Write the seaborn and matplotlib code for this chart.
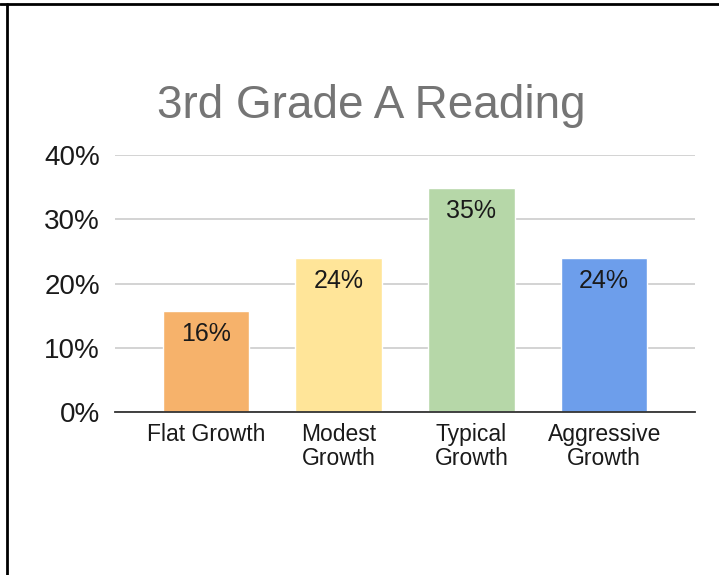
import matplotlib
matplotlib.use("Agg")
import matplotlib.pyplot as plt
import seaborn as sns
from matplotlib.lines import Line2D
from matplotlib.ticker import FuncFormatter

# data
categories = ["Flat Growth", "Modest\nGrowth", "Typical\nGrowth", "Aggressive\nGrowth"]
shares = [0.157, 0.24, 0.349, 0.24]
bar_labels = ["16%", "24%", "35%", "24%"]
colors = ["#F6B26B", "#FFE599", "#B6D7A8", "#6D9EEB"]

sns.set_style("white")
plt.rcParams["font.family"] = ["Liberation Sans", "DejaVu Sans"]

fig = plt.figure(figsize=(7.19, 5.75), dpi=100)
ax = fig.add_axes([0.16, 0.2835, 0.8066, 0.4469])

sns.barplot(x=categories, y=shares, hue=categories, palette=colors,
            legend=False, width=0.65, ax=ax, saturation=1)

for patch, lab in zip(ax.patches, bar_labels):
    ax.annotate(lab, (patch.get_x() + patch.get_width() / 2, patch.get_height()),
                xytext=(0, -23), textcoords="offset pixels",
                ha="center", va="center", fontsize=18, color="#1a1a1a")

ax.set_ylim(0, 0.4)
ax.set_xlim(-0.684, 3.684)
ax.set_yticks([0, 0.1, 0.2, 0.3, 0.4])
ax.yaxis.set_major_formatter(FuncFormatter(lambda v, _: f"{v * 100:.0f}%"))
ax.grid(axis="y", color="#cccccc", linewidth=1.2)
ax.set_axisbelow(True)
for side in ["top", "right", "left"]:
    ax.spines[side].set_visible(False)
ax.spines["bottom"].set_color("#333333")
ax.spines["bottom"].set_linewidth(1.3)
ax.tick_params(axis="y", length=0, labelsize=20, pad=11, colors="#1a1a1a")
ax.tick_params(axis="x", length=0, labelsize=16.5, pad=8, colors="#1a1a1a")
for t in ax.get_xticklabels():
    t.set_linespacing(1.05)
ax.set_xlabel("")
ax.set_ylabel("")

fig.text(0.516, 0.815, "3rd Grade A Reading", ha="center", va="center",
         fontsize=33, color="#757575")

# frame lines of the screenshot
fig.add_artist(Line2D([6.5 / 719, 6.5 / 719], [0, 1 - 4 / 575], color="black", linewidth=2))
fig.add_artist(Line2D([0, 1], [1 - 4 / 575, 1 - 4 / 575], color="black", linewidth=2))

fig.savefig("out.png", dpi=100)
